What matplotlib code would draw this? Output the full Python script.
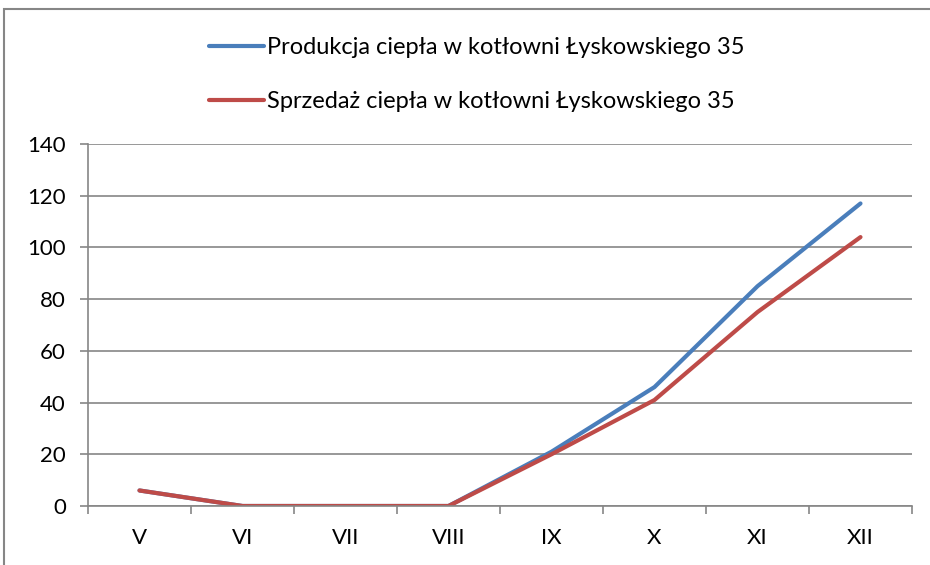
import matplotlib
matplotlib.use("Agg")
import matplotlib.pyplot as plt
from matplotlib.patches import Rectangle
import numpy as np

months = ["V", "VI", "VII", "VIII", "IX", "X", "XI", "XII"]
produkcja = [6, 0, 0, 0, 21, 46, 85, 117]
sprzedaz = [6, 0, 0, 0, 20, 41, 75, 104]
label_prod = "Produkcja ciepła w kotłowni Łyskowskiego 35"
label_sprz = "Sprzedaż ciepła w kotłowni Łyskowskiego 35"
yticks = [0, 20, 40, 60, 80, 100, 120, 140]

plt.rcParams['font.family'] = ['Lato', 'DejaVu Sans']

W, H = 930, 565
fig = plt.figure(figsize=(W / 100, H / 100), dpi=100)
ax = fig.add_axes([88 / W, 59 / H, (912 - 88) / W, (506 - 144) / H])

x = np.arange(len(months))
l1, = ax.plot(x, produkcja, color="#4A7EBB", lw=3.0, solid_capstyle="round", label=label_prod)
l2, = ax.plot(x, sprzedaz, color="#BE4B48", lw=3.0, solid_capstyle="round", label=label_sprz)

ax.set_xlim(-0.5, len(months) - 0.5)
ax.set_ylim(0, 140)
ax.set_yticks(yticks)
ax.set_yticklabels([str(v) for v in yticks])
ax.set_xticks(x)
ax.set_xticklabels(months)
ax.set_xticks(np.arange(-0.5, len(months), 1.0), minor=True)
ax.tick_params(axis="x", which="major", length=0, pad=16, labelsize=16, colors="black")
ax.tick_params(axis="x", which="minor", length=6, width=1.2, color="#868686", direction="out")
ax.tick_params(axis="y", length=6, width=1.2, color="#868686", pad=10, labelsize=16)

ax.grid(axis="y", color="#868686", lw=1.2)
ax.set_axisbelow(True)
for s in ["top", "right"]:
    ax.spines[s].set_visible(False)
for s in ["left", "bottom"]:
    ax.spines[s].set_color("#868686")
    ax.spines[s].set_linewidth(1.2)

fig.legend(handles=[l1, l2], loc="upper left", bbox_to_anchor=(209 / W, 1 - 37 / H),
           frameon=False, fontsize=17, handlelength=2.35, handletextpad=0.1,
           labelspacing=1.4, borderpad=0, borderaxespad=0)

fig.patches.append(Rectangle((4 / W, -0.1), 1.2, (H - 9) / H + 0.1, transform=fig.transFigure,
                             fill=False, edgecolor="#868686", lw=1.5))

fig.savefig("out.png", dpi=100)
